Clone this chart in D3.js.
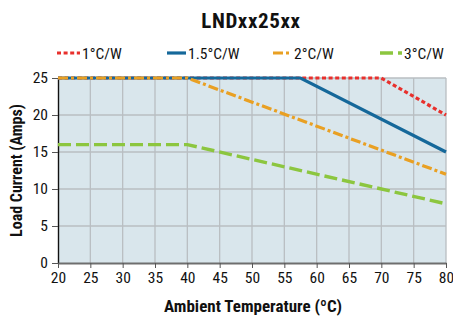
<!DOCTYPE html>
<html>
<head>
<meta charset="utf-8">
<script src="https://cdn.jsdelivr.net/npm/d3@7"></script>
<style>
  body { margin: 0; background: #fff; }
  text { font-family: "Liberation Sans Narrow", "Roboto Condensed", "Arial Narrow", sans-serif; }
</style>
</head>
<body>
<svg id="chart" width="453" height="318"></svg>
<script>
// chart data
const seriesNames = ["1°C/W", "1.5°C/W", "2°C/W", "3°C/W"];
const temps1 = [20, 70, 80];
const amps1 = [25, 25, 20];
const temps15 = [20, 57.5, 80];
const amps15 = [25, 25, 15];
const temps2 = [20, 40, 80];
const amps2 = [25, 25, 12];
const temps3 = [20, 40, 80];
const amps3 = [16, 16, 8];
const xTicks = [20, 25, 30, 35, 40, 45, 50, 55, 60, 65, 70, 75, 80];
const yTicks = [0, 5, 10, 15, 20, 25];

const styles = [
  { color: "#e8302c", width: 3.2, dash: "4,2.6" },
  { color: "#15689a", width: 3.2, dash: null },
  { color: "#e9a023", width: 3.2, dash: "10,3,3,3" },
  { color: "#8cc63f", width: 3.4, dash: "13,5" }
];

const series = [
  temps1.map((t, i) => [t, amps1[i]]),
  temps15.map((t, i) => [t, amps15[i]]),
  temps2.map((t, i) => [t, amps2[i]]),
  temps3.map((t, i) => [t, amps3[i]])
];

const svg = d3.select("#chart");
const plotL = 58, plotR = 446, plotT = 78, plotB = 263;

const x = d3.scaleLinear().domain([20, 80]).range([plotL, plotR]);
const y = d3.scaleLinear().domain([0, 25]).range([plotB, plotT]);

// background
svg.append("rect")
  .attr("x", plotL).attr("y", plotT)
  .attr("width", plotR - plotL).attr("height", plotB - plotT)
  .attr("fill", "#d9e6ec");

// grid
svg.selectAll(".vgrid").data(xTicks.slice(1)).enter().append("line")
  .attr("x1", d => x(d)).attr("x2", d => x(d))
  .attr("y1", plotT).attr("y2", plotB)
  .attr("stroke", "#b9bec2").attr("stroke-width", 1.3);
svg.selectAll(".hgrid").data(yTicks.slice(1)).enter().append("line")
  .attr("x1", plotL).attr("x2", plotR)
  .attr("y1", d => y(d)).attr("y2", d => y(d))
  .attr("stroke", "#b9bec2").attr("stroke-width", 1.3);

// axes
const yAxis = svg.append("g")
  .attr("transform", `translate(${plotL},0)`)
  .call(d3.axisLeft(y).tickValues(yTicks).tickSize(6).tickSizeOuter(0));
yAxis.select(".domain").attr("stroke", "#111").attr("stroke-width", 1.4);
yAxis.selectAll(".tick line").attr("stroke", "#555");
yAxis.selectAll("text").attr("font-size", 15.5).attr("fill", "#111").attr("dx", "-1");

const xAxis = svg.append("g")
  .attr("transform", `translate(0,${plotB})`)
  .call(d3.axisBottom(x).tickValues(xTicks).tickSize(5).tickSizeOuter(0));
xAxis.select(".domain").attr("stroke", "#6e6e6e").attr("stroke-width", 2.2);
xAxis.selectAll(".tick line").attr("stroke", "#555");
xAxis.selectAll("text").attr("font-size", 15.5).attr("fill", "#111").attr("dy", "0.8em");

// lines
const line = d3.line().x(d => x(d[0])).y(d => y(d[1]));
// draw in order so red/blue sit under orange at the 25 plateau
[0, 1, 3, 2].forEach(i => {
  const s = styles[i];
  svg.append("path")
    .datum(series[i])
    .attr("d", line)
    .attr("fill", "none")
    .attr("stroke", s.color)
    .attr("stroke-width", s.width)
    .attr("stroke-dasharray", s.dash);
});

// title
svg.append("text")
  .attr("x", 251).attr("y", 28)
  .attr("text-anchor", "middle")
  .attr("font-size", 21).attr("font-weight", "bold")
  .attr("letter-spacing", 0.6)
  .attr("fill", "#111")
  .text("LNDxx25xx");

// legend
const legendX = [57, 167, 273, 380];
const legendW = [23, 19, 19, 22];
seriesNames.forEach((name, i) => {
  const s = styles[i];
  const g = svg.append("g");
  g.append("line")
    .attr("x1", legendX[i]).attr("x2", legendX[i] + legendW[i])
    .attr("y1", 53).attr("y2", 53)
    .attr("stroke", s.color).attr("stroke-width", s.width)
    .attr("stroke-dasharray", s.dash);
  g.append("text")
    .attr("x", legendX[i] + legendW[i] + 2).attr("y", 58.5)
    .attr("font-size", 15.5).attr("fill", "#111")
    .text(name);
});

// axis titles
svg.append("text")
  .attr("x", 253).attr("y", 312)
  .attr("text-anchor", "middle")
  .attr("font-size", 17).attr("font-weight", "bold").attr("fill", "#111")
  .text("Ambient Temperature (ºC)");

svg.append("text")
  .attr("transform", `translate(22,${(plotT + plotB) / 2}) rotate(-90)`)
  .attr("text-anchor", "middle")
  .attr("font-size", 16).attr("font-weight", "bold").attr("fill", "#111")
  .text("Load Current (Amps)");
</script>
</body>
</html>
